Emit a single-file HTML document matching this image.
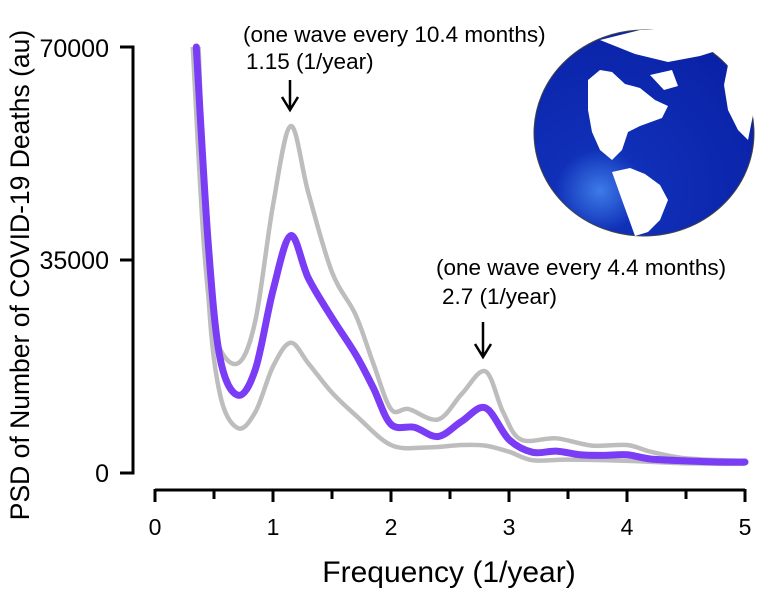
<!DOCTYPE html>
<html><head><meta charset="utf-8"><style>
body{margin:0;background:#fff;width:759px;height:590px;overflow:hidden}
svg text{font-family:"Liberation Sans",Arial,sans-serif;fill:#000}
</style></head><body>
<svg width="759" height="590" viewBox="0 0 759 590">
<defs>
<radialGradient id="gl" cx="0.3" cy="0.78" r="0.8">
<stop offset="0" stop-color="#3d7be8"/><stop offset="0.25" stop-color="#1030b8"/><stop offset="1" stop-color="#0a22a8"/>
</radialGradient>
</defs>
<g>
<ellipse cx="644" cy="133" rx="110" ry="103" fill="url(#gl)" stroke="#444" stroke-width="1"/>
<path d="M588 80 L600 70 L612 72 L625 84 L640 88 L655 100 L668 106 L662 118 L640 126 L628 132 L622 150 L612 160 L600 150 L592 132 L588 110 Z" fill="#fff"/>
<path d="M612 172 L630 168 L645 174 L660 185 L668 200 L660 220 L648 232 L635 236 L630 222 L622 200 Z" fill="#fff"/>
<path d="M730 55 L745 80 L754 110 L748 140 L738 130 L728 110 L724 85 Z" fill="#fff"/>
<path d="M600 40 L640 30 L700 30 L735 45 L700 56 L668 62 L635 54 Z" fill="#fff"/>
<path d="M650 75 L672 70 L678 86 L664 90 Z" fill="#fff"/>
</g>
<g id="axes"></g>
<g>
<text x="109" y="57" font-size="25" text-anchor="end">70000</text>
<text x="109" y="269" font-size="25" text-anchor="end">35000</text>
<text x="109" y="482" font-size="25" text-anchor="end">0</text>
</g>
<g>
<text x="155" y="535" font-size="23" text-anchor="middle">0</text>
<text x="273" y="535" font-size="23" text-anchor="middle">1</text>
<text x="391" y="535" font-size="23" text-anchor="middle">2</text>
<text x="509" y="535" font-size="23" text-anchor="middle">3</text>
<text x="627" y="535" font-size="23" text-anchor="middle">4</text>
<text x="745" y="535" font-size="23" text-anchor="middle">5</text>
</g>
<g id="series"></g>
<text x="243" y="42" font-size="22.5">(one wave every 10.4 months)</text>
<text x="246" y="69" font-size="22.5">1.15 (1/year)</text>
<g stroke="#000" stroke-width="2.5" fill="none"><path d="M290 80 V109 M282 97 L290 110 L298 97"/></g>
<text x="436" y="275" font-size="22.5">(one wave every 4.4 months)</text>
<text x="442" y="304" font-size="22.5">2.7 (1/year)</text>
<g stroke="#000" stroke-width="2.5" fill="none"><path d="M483 322 V356 M475 344 L483 357 L491 344"/></g>
<text x="449" y="582" font-size="30" text-anchor="middle">Frequency (1/year)</text>
<text transform="translate(29,275) rotate(-90)" font-size="26.5" text-anchor="middle">PSD of Number of COVID-19 Deaths (au)</text>
</svg>
<script>
const freqMean=[0.35,0.45,0.55,0.7,0.85,1.0,1.15,1.3,1.5,1.7,1.85,2.0,2.2,2.4,2.6,2.8,3.0,3.2,3.4,3.6,3.8,4.0,4.2,4.5,4.8,5.0];
const meanVals=[70000,38000,19000,12800,17000,30000,39000,32000,25500,19500,14000,8000,7500,6000,8500,10700,5500,3400,3600,3000,2900,3000,2300,2000,1800,1800];
const freqUpper=[0.32,0.42,0.52,0.7,0.85,1.0,1.15,1.3,1.5,1.7,1.85,2.0,2.15,2.4,2.6,2.8,2.95,3.1,3.4,3.7,4.0,4.2,4.5,5.0];
const upperVals=[70000,36000,22000,18000,25000,44000,57000,46000,33000,26000,18000,10500,10500,8800,13000,16700,10000,5500,5700,4500,4600,3500,2400,2000];
const freqLower=[0.37,0.45,0.55,0.7,0.85,1.0,1.15,1.3,1.5,1.7,2.0,2.3,2.6,2.8,3.0,3.2,3.5,4.0,4.5,5.0];
const lowerVals=[70000,30000,13000,7400,10000,17500,21400,18000,13200,9500,4600,4200,4600,4500,3500,2100,2200,2000,1600,1500];
const yTicks=[0,35000,70000];
const NS="http://www.w3.org/2000/svg";
const X=f=>155+f*118, Y=v=>473-v*(213/35000);
function mk(t,a,p){const e=document.createElementNS(NS,t);for(const k in a)e.setAttribute(k,a[k]);p.appendChild(e);return e;}
const ax=document.getElementById('axes');
let yl=mk('path',{d:'M120 '+Y(70000)+' H133 V'+Y(0)+' H120',stroke:'#000','stroke-width':3,fill:'none'},ax);


yTicks.forEach(v=>{mk('path',{d:'M120 '+Y(v)+' H133',stroke:'#000','stroke-width':3},ax);});
let xl=mk('path',{d:'M'+X(0)+' 490 H'+X(5),stroke:'#000','stroke-width':3,fill:'none'},ax);


for(let i=0;i<=10;i++){const f=i/2;mk('path',{d:'M'+X(f)+' 489 V'+(i%2===0?502:499),stroke:'#000','stroke-width':3},ax);}
function path(fs,vs){const p=fs.map((f,i)=>[X(f),Y(vs[i])]);let d='M'+p[0][0]+' '+p[0][1];
for(let i=0;i<p.length-1;i++){const p0=p[Math.max(0,i-1)],p1=p[i],p2=p[i+1],p3=p[Math.min(p.length-1,i+2)];
d+=' C'+(p1[0]+(p2[0]-p0[0])/6)+' '+(p1[1]+(p2[1]-p0[1])/6)+' '+(p2[0]-(p3[0]-p1[0])/6)+' '+(p2[1]-(p3[1]-p1[1])/6)+' '+p2[0]+' '+p2[1];}return d;}
const s=document.getElementById('series');
let u=mk('path',{d:path(freqUpper,upperVals),stroke:'#bdbdbd','stroke-width':4.5,fill:'none'},s);


let l=mk('path',{d:path(freqLower,lowerVals),stroke:'#bdbdbd','stroke-width':4.5,fill:'none'},s);


let m=mk('path',{d:path(freqMean,meanVals),stroke:'#7a3cf5','stroke-width':7,fill:'none','stroke-linecap':'round'},s);


</script>
</body></html>
